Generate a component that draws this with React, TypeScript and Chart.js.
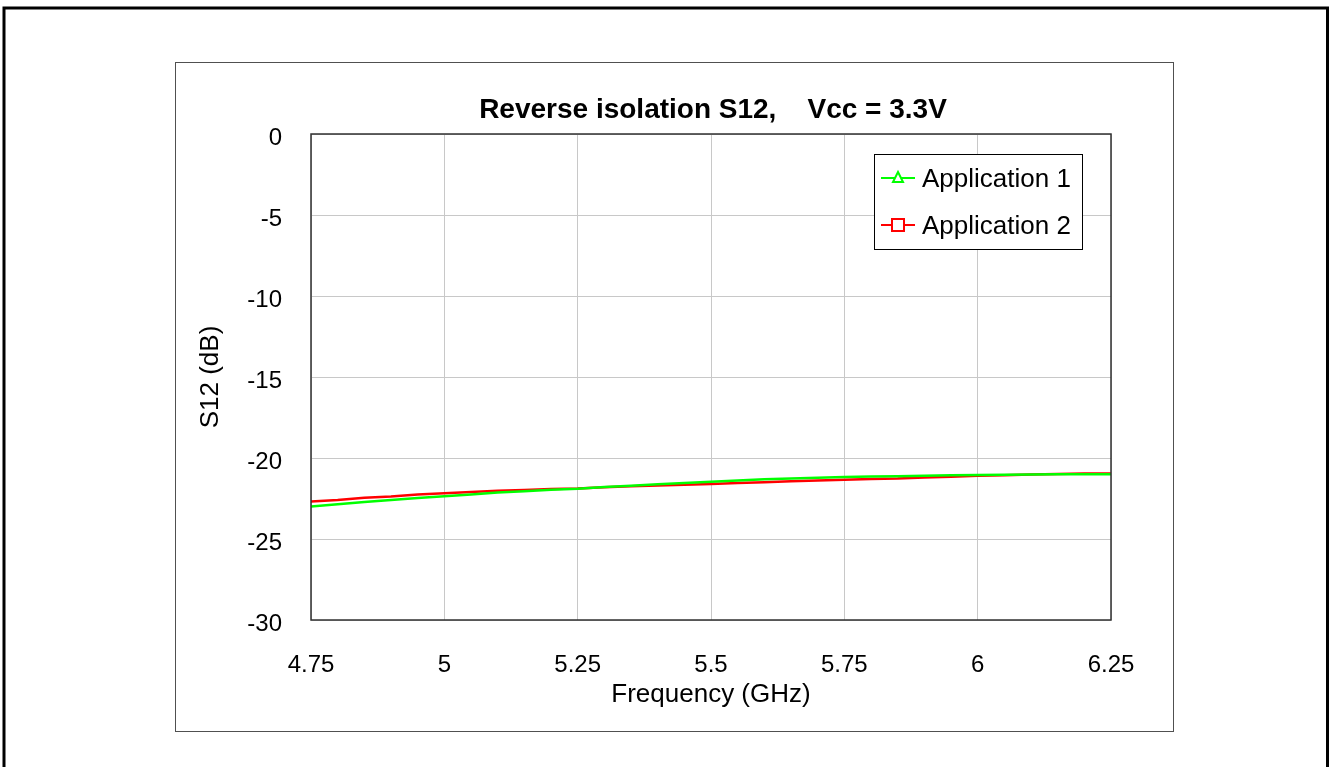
import React, { useEffect, useRef } from "react";
import { Chart, registerables } from "chart.js";

Chart.register(...registerables);

const TITLE = "Reverse isolation S12,    Vcc = 3.3V";
const X_TITLE = "Frequency (GHz)";
const Y_TITLE = "S12 (dB)";
const SERIES_NAMES = ["Application 1", "Application 2"];

const frequency = [
  4.75, 4.8, 4.85, 4.9, 4.95, 5.0, 5.05, 5.1, 5.15, 5.2, 5.25, 5.3, 5.35, 5.4, 5.45, 5.5,
  5.55, 5.6, 5.65, 5.7, 5.75, 5.8, 5.85, 5.9, 5.95, 6.0, 6.05, 6.1, 6.15, 6.2, 6.25,
];

const app1 = [
  -23.0, -22.85, -22.72, -22.6, -22.47, -22.36, -22.26, -22.13, -22.06, -21.96, -21.9,
  -21.79, -21.72, -21.62, -21.55, -21.47, -21.39, -21.31, -21.26, -21.22, -21.18, -21.14,
  -21.12, -21.1, -21.07, -21.05, -21.03, -21.02, -21.0, -21.0, -21.0,
];

const app2 = [
  -22.68, -22.6, -22.46, -22.38, -22.26, -22.18, -22.1, -22.02, -21.98, -21.92, -21.88,
  -21.8, -21.75, -21.7, -21.65, -21.6, -21.55, -21.5, -21.43, -21.39, -21.35, -21.3,
  -21.27, -21.2, -21.15, -21.1, -21.06, -21.02, -20.98, -20.95, -20.95,
];

const xTicks = [4.75, 5, 5.25, 5.5, 5.75, 6, 6.25];
const yTicks = [0, -5, -10, -15, -20, -25, -30];

const FONT = "'Liberation Sans', Arial, Helvetica, sans-serif";

const framePlugin = {
  id: "frames",
  beforeDraw(chart: any) {
    const ctx = chart.ctx;
    ctx.save();
    ctx.fillStyle = "#ffffff";
    ctx.fillRect(0, 0, chart.width, chart.height);
    ctx.strokeStyle = "#000000";
    ctx.lineWidth = 3;
    ctx.strokeRect(4, 8, 1323.5, 780);
    ctx.lineWidth = 1;
    ctx.strokeStyle = "#505050";
    ctx.strokeRect(175.5, 62.5, 998, 669);
    ctx.restore();
  },
  afterDraw(chart: any) {
    const ctx = chart.ctx;
    const a = chart.chartArea;
    ctx.save();
    ctx.strokeStyle = "#303030";
    ctx.lineWidth = 1.5;
    ctx.strokeRect(a.left, a.top, a.right - a.left, a.bottom - a.top);

    // Title
    ctx.fillStyle = "#000000";
    ctx.font = `bold 28px ${FONT}`;
    ctx.textAlign = "center";
    ctx.textBaseline = "middle";
    ctx.fillText(TITLE, (a.left + a.right) / 2 + 2, 110);

    // Legend
    const lx = 874.5, ly = 154.5, lw = 208, lh = 95;
    ctx.fillStyle = "#ffffff";
    ctx.fillRect(lx, ly, lw, lh);
    ctx.strokeStyle = "#000000";
    ctx.lineWidth = 1;
    ctx.strokeRect(lx, ly, lw, lh);
    const rows = [178, 225];
    chart.data.datasets.forEach((ds: any, i: number) => {
      const y = rows[i];
      ctx.strokeStyle = ds.borderColor;
      ctx.lineWidth = 2;
      ctx.beginPath();
      ctx.moveTo(881, y);
      ctx.lineTo(915, y);
      ctx.stroke();
      ctx.fillStyle = "#ffffff";
      ctx.beginPath();
      if (i === 0) {
        ctx.moveTo(898, y - 6);
        ctx.lineTo(903, y + 4);
        ctx.lineTo(893, y + 4);
        ctx.closePath();
      } else {
        ctx.rect(892, y - 6, 12, 12);
      }
      ctx.fill();
      ctx.stroke();
      ctx.fillStyle = "#000000";
      ctx.font = `26px ${FONT}`;
      ctx.textAlign = "left";
      ctx.textBaseline = "middle";
      ctx.fillText(ds.label, 922, y + 2);
    });
    ctx.restore();
  },
};

export default function App() {
  const ref = useRef<HTMLCanvasElement | null>(null);

  useEffect(() => {
    if (!ref.current) return;
    const chart = new Chart(ref.current, {
      type: "line",
      data: {
        datasets: [
          {
            label: SERIES_NAMES[0],
            data: frequency.map((f, i) => ({ x: f, y: app1[i] })),
            borderColor: "#00ff00",
            backgroundColor: "#00ff00",
            borderWidth: 2.5,
            pointRadius: 0,
            tension: 0,
          },
          {
            label: SERIES_NAMES[1],
            data: frequency.map((f, i) => ({ x: f, y: app2[i] })),
            borderColor: "#ff0000",
            backgroundColor: "#ff0000",
            borderWidth: 2.5,
            pointRadius: 0,
            tension: 0,
          },
        ],
      },
      options: {
        responsive: false,
        animation: false,
        events: [],
        layout: { padding: { left: 0, top: 134, right: 219, bottom: 0 } },
        plugins: {
          legend: { display: false },
          title: { display: false },
          tooltip: { enabled: false },
        },
        scales: {
          x: {
            type: "linear",
            min: xTicks[0],
            max: xTicks[xTicks.length - 1],
            afterFit: (s: any) => {
              s.height = 147;
            },
            afterBuildTicks: (s: any) => {
              s.ticks = xTicks.map((v) => ({ value: v }));
            },
            ticks: {
              padding: 31,
              color: "#000000",
              font: { family: FONT, size: 24 },
              callback: (v: any) => String(v),
            },
            grid: { color: "#c8c8c8", lineWidth: 1, drawTicks: false },
            border: { display: false },
            title: {
              display: true,
              text: X_TITLE,
              color: "#000000",
              font: { family: FONT, size: 26 },
              padding: { top: 0, bottom: 57 },
            },
          },
          y: {
            type: "linear",
            min: -30,
            max: 0,
            afterFit: (s: any) => {
              s.width = 311;
            },
            afterBuildTicks: (s: any) => {
              s.ticks = yTicks.map((v) => ({ value: v }));
            },
            ticks: {
              padding: 29,
              labelOffset: 4,
              color: "#000000",
              font: { family: FONT, size: 24 },
              callback: (v: any) => String(v),
            },
            grid: { color: "#c8c8c8", lineWidth: 1, drawTicks: false },
            border: { display: false },
            title: {
              display: true,
              text: Y_TITLE,
              color: "#000000",
              font: { family: FONT, size: 26 },
              padding: { top: 195, bottom: 0 },
            },
          },
        },
      },
      plugins: [framePlugin],
    });
    return () => chart.destroy();
  }, []);

  return (
    <div style={{ position: "absolute", left: 0, top: 0, width: 1330, height: 767 }}>
      <canvas ref={ref} width={1330} height={767} style={{ display: "block" }} />
    </div>
  );
}
